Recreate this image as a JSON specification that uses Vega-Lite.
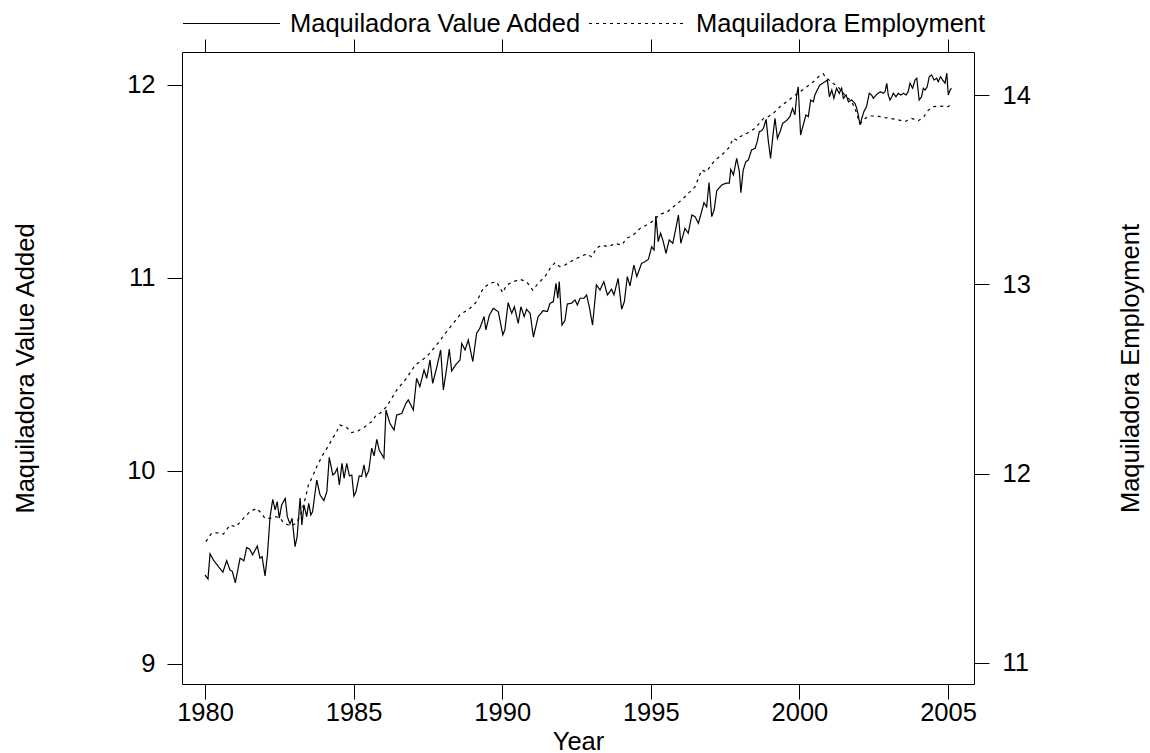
{
  "$schema": "https://vega.github.io/schema/vega-lite/v6.json",
  "width": 792,
  "height": 632,
  "autosize": {"type": "none"},
  "padding": {"left": 182, "top": 52, "right": 176, "bottom": 69},
  "background": "white",
  "config": {
    "view": {"stroke": "black", "strokeWidth": 1},
    "font": "Liberation Sans",
    "axis": {
      "grid": false, "domain": false, "tickColor": "black", "tickWidth": 1,
      "labelFont": "Liberation Sans", "labelFontSize": 25.5, "labelColor": "black",
      "titleFont": "Liberation Sans", "titleFontSize": 25.5, "titleFontWeight": "normal", "titleColor": "black"
    }
  },
  "datasets": {
    "va": [
      {"year":1980.0,"value":9.461,"series":"Maquiladora Value Added"},
      {"year":1980.1,"value":9.44,"series":"Maquiladora Value Added"},
      {"year":1980.17,"value":9.571,"series":"Maquiladora Value Added"},
      {"year":1980.28,"value":9.539,"series":"Maquiladora Value Added"},
      {"year":1980.6,"value":9.475,"series":"Maquiladora Value Added"},
      {"year":1980.73,"value":9.535,"series":"Maquiladora Value Added"},
      {"year":1980.84,"value":9.487,"series":"Maquiladora Value Added"},
      {"year":1980.92,"value":9.48,"series":"Maquiladora Value Added"},
      {"year":1981.02,"value":9.42,"series":"Maquiladora Value Added"},
      {"year":1981.18,"value":9.548,"series":"Maquiladora Value Added"},
      {"year":1981.31,"value":9.535,"series":"Maquiladora Value Added"},
      {"year":1981.4,"value":9.603,"series":"Maquiladora Value Added"},
      {"year":1981.51,"value":9.594,"series":"Maquiladora Value Added"},
      {"year":1981.6,"value":9.565,"series":"Maquiladora Value Added"},
      {"year":1981.76,"value":9.611,"series":"Maquiladora Value Added"},
      {"year":1981.85,"value":9.548,"series":"Maquiladora Value Added"},
      {"year":1981.92,"value":9.556,"series":"Maquiladora Value Added"},
      {"year":1982.02,"value":9.456,"series":"Maquiladora Value Added"},
      {"year":1982.1,"value":9.565,"series":"Maquiladora Value Added"},
      {"year":1982.19,"value":9.763,"series":"Maquiladora Value Added"},
      {"year":1982.28,"value":9.853,"series":"Maquiladora Value Added"},
      {"year":1982.36,"value":9.798,"series":"Maquiladora Value Added"},
      {"year":1982.43,"value":9.841,"series":"Maquiladora Value Added"},
      {"year":1982.5,"value":9.755,"series":"Maquiladora Value Added"},
      {"year":1982.58,"value":9.824,"series":"Maquiladora Value Added"},
      {"year":1982.7,"value":9.858,"series":"Maquiladora Value Added"},
      {"year":1982.77,"value":9.763,"series":"Maquiladora Value Added"},
      {"year":1982.86,"value":9.725,"series":"Maquiladora Value Added"},
      {"year":1982.93,"value":9.755,"series":"Maquiladora Value Added"},
      {"year":1983.03,"value":9.608,"series":"Maquiladora Value Added"},
      {"year":1983.1,"value":9.66,"series":"Maquiladora Value Added"},
      {"year":1983.2,"value":9.859,"series":"Maquiladora Value Added"},
      {"year":1983.26,"value":9.72,"series":"Maquiladora Value Added"},
      {"year":1983.33,"value":9.824,"series":"Maquiladora Value Added"},
      {"year":1983.42,"value":9.763,"series":"Maquiladora Value Added"},
      {"year":1983.49,"value":9.832,"series":"Maquiladora Value Added"},
      {"year":1983.56,"value":9.772,"series":"Maquiladora Value Added"},
      {"year":1983.62,"value":9.789,"series":"Maquiladora Value Added"},
      {"year":1983.76,"value":9.953,"series":"Maquiladora Value Added"},
      {"year":1983.87,"value":9.876,"series":"Maquiladora Value Added"},
      {"year":1984.0,"value":9.846,"series":"Maquiladora Value Added"},
      {"year":1984.1,"value":9.893,"series":"Maquiladora Value Added"},
      {"year":1984.18,"value":10.071,"series":"Maquiladora Value Added"},
      {"year":1984.3,"value":9.979,"series":"Maquiladora Value Added"},
      {"year":1984.37,"value":9.988,"series":"Maquiladora Value Added"},
      {"year":1984.45,"value":10.014,"series":"Maquiladora Value Added"},
      {"year":1984.52,"value":9.927,"series":"Maquiladora Value Added"},
      {"year":1984.61,"value":10.039,"series":"Maquiladora Value Added"},
      {"year":1984.68,"value":9.962,"series":"Maquiladora Value Added"},
      {"year":1984.77,"value":10.039,"series":"Maquiladora Value Added"},
      {"year":1984.86,"value":9.974,"series":"Maquiladora Value Added"},
      {"year":1984.94,"value":9.979,"series":"Maquiladora Value Added"},
      {"year":1985.01,"value":9.87,"series":"Maquiladora Value Added"},
      {"year":1985.08,"value":9.893,"series":"Maquiladora Value Added"},
      {"year":1985.19,"value":9.974,"series":"Maquiladora Value Added"},
      {"year":1985.27,"value":9.971,"series":"Maquiladora Value Added"},
      {"year":1985.35,"value":10.031,"series":"Maquiladora Value Added"},
      {"year":1985.42,"value":9.971,"series":"Maquiladora Value Added"},
      {"year":1985.51,"value":10.002,"series":"Maquiladora Value Added"},
      {"year":1985.61,"value":10.118,"series":"Maquiladora Value Added"},
      {"year":1985.69,"value":10.078,"series":"Maquiladora Value Added"},
      {"year":1985.78,"value":10.164,"series":"Maquiladora Value Added"},
      {"year":1985.86,"value":10.109,"series":"Maquiladora Value Added"},
      {"year":1986.02,"value":10.066,"series":"Maquiladora Value Added"},
      {"year":1986.09,"value":10.316,"series":"Maquiladora Value Added"},
      {"year":1986.22,"value":10.247,"series":"Maquiladora Value Added"},
      {"year":1986.36,"value":10.212,"series":"Maquiladora Value Added"},
      {"year":1986.45,"value":10.29,"series":"Maquiladora Value Added"},
      {"year":1986.62,"value":10.298,"series":"Maquiladora Value Added"},
      {"year":1986.76,"value":10.35,"series":"Maquiladora Value Added"},
      {"year":1986.84,"value":10.368,"series":"Maquiladora Value Added"},
      {"year":1987.01,"value":10.316,"series":"Maquiladora Value Added"},
      {"year":1987.12,"value":10.48,"series":"Maquiladora Value Added"},
      {"year":1987.23,"value":10.437,"series":"Maquiladora Value Added"},
      {"year":1987.37,"value":10.523,"series":"Maquiladora Value Added"},
      {"year":1987.46,"value":10.48,"series":"Maquiladora Value Added"},
      {"year":1987.57,"value":10.575,"series":"Maquiladora Value Added"},
      {"year":1987.66,"value":10.454,"series":"Maquiladora Value Added"},
      {"year":1987.79,"value":10.532,"series":"Maquiladora Value Added"},
      {"year":1987.93,"value":10.627,"series":"Maquiladora Value Added"},
      {"year":1988.02,"value":10.42,"series":"Maquiladora Value Added"},
      {"year":1988.11,"value":10.51,"series":"Maquiladora Value Added"},
      {"year":1988.22,"value":10.631,"series":"Maquiladora Value Added"},
      {"year":1988.3,"value":10.518,"series":"Maquiladora Value Added"},
      {"year":1988.45,"value":10.553,"series":"Maquiladora Value Added"},
      {"year":1988.58,"value":10.575,"series":"Maquiladora Value Added"},
      {"year":1988.64,"value":10.661,"series":"Maquiladora Value Added"},
      {"year":1988.75,"value":10.627,"series":"Maquiladora Value Added"},
      {"year":1988.86,"value":10.679,"series":"Maquiladora Value Added"},
      {"year":1989.01,"value":10.567,"series":"Maquiladora Value Added"},
      {"year":1989.14,"value":10.714,"series":"Maquiladora Value Added"},
      {"year":1989.25,"value":10.74,"series":"Maquiladora Value Added"},
      {"year":1989.39,"value":10.8,"series":"Maquiladora Value Added"},
      {"year":1989.45,"value":10.731,"series":"Maquiladora Value Added"},
      {"year":1989.57,"value":10.808,"series":"Maquiladora Value Added"},
      {"year":1989.7,"value":10.843,"series":"Maquiladora Value Added"},
      {"year":1989.87,"value":10.825,"series":"Maquiladora Value Added"},
      {"year":1990.02,"value":10.705,"series":"Maquiladora Value Added"},
      {"year":1990.09,"value":10.731,"series":"Maquiladora Value Added"},
      {"year":1990.2,"value":10.872,"series":"Maquiladora Value Added"},
      {"year":1990.32,"value":10.817,"series":"Maquiladora Value Added"},
      {"year":1990.41,"value":10.851,"series":"Maquiladora Value Added"},
      {"year":1990.54,"value":10.765,"series":"Maquiladora Value Added"},
      {"year":1990.63,"value":10.851,"series":"Maquiladora Value Added"},
      {"year":1990.74,"value":10.8,"series":"Maquiladora Value Added"},
      {"year":1990.82,"value":10.838,"series":"Maquiladora Value Added"},
      {"year":1990.94,"value":10.817,"series":"Maquiladora Value Added"},
      {"year":1991.05,"value":10.693,"series":"Maquiladora Value Added"},
      {"year":1991.21,"value":10.8,"series":"Maquiladora Value Added"},
      {"year":1991.38,"value":10.831,"series":"Maquiladora Value Added"},
      {"year":1991.52,"value":10.826,"series":"Maquiladora Value Added"},
      {"year":1991.61,"value":10.869,"series":"Maquiladora Value Added"},
      {"year":1991.72,"value":10.877,"series":"Maquiladora Value Added"},
      {"year":1991.81,"value":10.972,"series":"Maquiladora Value Added"},
      {"year":1991.87,"value":10.895,"series":"Maquiladora Value Added"},
      {"year":1991.92,"value":10.981,"series":"Maquiladora Value Added"},
      {"year":1992.01,"value":10.756,"series":"Maquiladora Value Added"},
      {"year":1992.11,"value":10.779,"series":"Maquiladora Value Added"},
      {"year":1992.19,"value":10.865,"series":"Maquiladora Value Added"},
      {"year":1992.33,"value":10.869,"series":"Maquiladora Value Added"},
      {"year":1992.45,"value":10.886,"series":"Maquiladora Value Added"},
      {"year":1992.53,"value":10.86,"series":"Maquiladora Value Added"},
      {"year":1992.62,"value":10.895,"series":"Maquiladora Value Added"},
      {"year":1992.75,"value":10.895,"series":"Maquiladora Value Added"},
      {"year":1992.84,"value":10.912,"series":"Maquiladora Value Added"},
      {"year":1992.93,"value":10.851,"series":"Maquiladora Value Added"},
      {"year":1993.04,"value":10.756,"series":"Maquiladora Value Added"},
      {"year":1993.17,"value":10.964,"series":"Maquiladora Value Added"},
      {"year":1993.29,"value":10.938,"series":"Maquiladora Value Added"},
      {"year":1993.42,"value":10.981,"series":"Maquiladora Value Added"},
      {"year":1993.54,"value":10.912,"series":"Maquiladora Value Added"},
      {"year":1993.68,"value":10.942,"series":"Maquiladora Value Added"},
      {"year":1993.76,"value":10.912,"series":"Maquiladora Value Added"},
      {"year":1993.9,"value":10.998,"series":"Maquiladora Value Added"},
      {"year":1994.02,"value":10.838,"series":"Maquiladora Value Added"},
      {"year":1994.11,"value":10.877,"series":"Maquiladora Value Added"},
      {"year":1994.21,"value":11.007,"series":"Maquiladora Value Added"},
      {"year":1994.3,"value":10.959,"series":"Maquiladora Value Added"},
      {"year":1994.43,"value":11.067,"series":"Maquiladora Value Added"},
      {"year":1994.53,"value":11.007,"series":"Maquiladora Value Added"},
      {"year":1994.69,"value":11.076,"series":"Maquiladora Value Added"},
      {"year":1994.8,"value":11.084,"series":"Maquiladora Value Added"},
      {"year":1994.92,"value":11.097,"series":"Maquiladora Value Added"},
      {"year":1995.03,"value":11.162,"series":"Maquiladora Value Added"},
      {"year":1995.11,"value":11.145,"series":"Maquiladora Value Added"},
      {"year":1995.17,"value":11.321,"series":"Maquiladora Value Added"},
      {"year":1995.25,"value":11.188,"series":"Maquiladora Value Added"},
      {"year":1995.33,"value":11.232,"series":"Maquiladora Value Added"},
      {"year":1995.42,"value":11.188,"series":"Maquiladora Value Added"},
      {"year":1995.51,"value":11.128,"series":"Maquiladora Value Added"},
      {"year":1995.62,"value":11.197,"series":"Maquiladora Value Added"},
      {"year":1995.74,"value":11.18,"series":"Maquiladora Value Added"},
      {"year":1995.81,"value":11.232,"series":"Maquiladora Value Added"},
      {"year":1995.93,"value":11.326,"series":"Maquiladora Value Added"},
      {"year":1996.01,"value":11.18,"series":"Maquiladora Value Added"},
      {"year":1996.15,"value":11.257,"series":"Maquiladora Value Added"},
      {"year":1996.26,"value":11.232,"series":"Maquiladora Value Added"},
      {"year":1996.38,"value":11.326,"series":"Maquiladora Value Added"},
      {"year":1996.49,"value":11.318,"series":"Maquiladora Value Added"},
      {"year":1996.6,"value":11.283,"series":"Maquiladora Value Added"},
      {"year":1996.71,"value":11.344,"series":"Maquiladora Value Added"},
      {"year":1996.79,"value":11.39,"series":"Maquiladora Value Added"},
      {"year":1996.88,"value":11.369,"series":"Maquiladora Value Added"},
      {"year":1996.96,"value":11.494,"series":"Maquiladora Value Added"},
      {"year":1997.05,"value":11.318,"series":"Maquiladora Value Added"},
      {"year":1997.13,"value":11.352,"series":"Maquiladora Value Added"},
      {"year":1997.22,"value":11.452,"series":"Maquiladora Value Added"},
      {"year":1997.39,"value":11.482,"series":"Maquiladora Value Added"},
      {"year":1997.53,"value":11.491,"series":"Maquiladora Value Added"},
      {"year":1997.64,"value":11.491,"series":"Maquiladora Value Added"},
      {"year":1997.69,"value":11.563,"series":"Maquiladora Value Added"},
      {"year":1997.78,"value":11.534,"series":"Maquiladora Value Added"},
      {"year":1997.89,"value":11.62,"series":"Maquiladora Value Added"},
      {"year":1997.98,"value":11.551,"series":"Maquiladora Value Added"},
      {"year":1998.03,"value":11.442,"series":"Maquiladora Value Added"},
      {"year":1998.11,"value":11.56,"series":"Maquiladora Value Added"},
      {"year":1998.2,"value":11.603,"series":"Maquiladora Value Added"},
      {"year":1998.28,"value":11.611,"series":"Maquiladora Value Added"},
      {"year":1998.39,"value":11.663,"series":"Maquiladora Value Added"},
      {"year":1998.51,"value":11.672,"series":"Maquiladora Value Added"},
      {"year":1998.58,"value":11.706,"series":"Maquiladora Value Added"},
      {"year":1998.65,"value":11.758,"series":"Maquiladora Value Added"},
      {"year":1998.73,"value":11.763,"series":"Maquiladora Value Added"},
      {"year":1998.79,"value":11.776,"series":"Maquiladora Value Added"},
      {"year":1998.88,"value":11.822,"series":"Maquiladora Value Added"},
      {"year":1998.95,"value":11.715,"series":"Maquiladora Value Added"},
      {"year":1999.03,"value":11.62,"series":"Maquiladora Value Added"},
      {"year":1999.12,"value":11.753,"series":"Maquiladora Value Added"},
      {"year":1999.18,"value":11.827,"series":"Maquiladora Value Added"},
      {"year":1999.26,"value":11.724,"series":"Maquiladora Value Added"},
      {"year":1999.35,"value":11.758,"series":"Maquiladora Value Added"},
      {"year":1999.44,"value":11.802,"series":"Maquiladora Value Added"},
      {"year":1999.52,"value":11.81,"series":"Maquiladora Value Added"},
      {"year":1999.59,"value":11.819,"series":"Maquiladora Value Added"},
      {"year":1999.68,"value":11.836,"series":"Maquiladora Value Added"},
      {"year":1999.77,"value":11.879,"series":"Maquiladora Value Added"},
      {"year":1999.85,"value":11.845,"series":"Maquiladora Value Added"},
      {"year":1999.91,"value":11.948,"series":"Maquiladora Value Added"},
      {"year":1999.96,"value":11.991,"series":"Maquiladora Value Added"},
      {"year":2000.04,"value":11.741,"series":"Maquiladora Value Added"},
      {"year":2000.13,"value":11.793,"series":"Maquiladora Value Added"},
      {"year":2000.22,"value":11.845,"series":"Maquiladora Value Added"},
      {"year":2000.3,"value":11.836,"series":"Maquiladora Value Added"},
      {"year":2000.38,"value":11.922,"series":"Maquiladora Value Added"},
      {"year":2000.47,"value":11.913,"series":"Maquiladora Value Added"},
      {"year":2000.52,"value":11.948,"series":"Maquiladora Value Added"},
      {"year":2000.6,"value":11.974,"series":"Maquiladora Value Added"},
      {"year":2000.69,"value":12.0,"series":"Maquiladora Value Added"},
      {"year":2000.78,"value":12.009,"series":"Maquiladora Value Added"},
      {"year":2000.86,"value":12.017,"series":"Maquiladora Value Added"},
      {"year":2000.94,"value":12.026,"series":"Maquiladora Value Added"},
      {"year":2001.01,"value":11.939,"series":"Maquiladora Value Added"},
      {"year":2001.09,"value":11.974,"series":"Maquiladora Value Added"},
      {"year":2001.16,"value":11.931,"series":"Maquiladora Value Added"},
      {"year":2001.25,"value":11.983,"series":"Maquiladora Value Added"},
      {"year":2001.34,"value":11.957,"series":"Maquiladora Value Added"},
      {"year":2001.42,"value":11.983,"series":"Maquiladora Value Added"},
      {"year":2001.48,"value":11.931,"series":"Maquiladora Value Added"},
      {"year":2001.57,"value":11.948,"series":"Maquiladora Value Added"},
      {"year":2001.65,"value":11.913,"series":"Maquiladora Value Added"},
      {"year":2001.76,"value":11.922,"series":"Maquiladora Value Added"},
      {"year":2001.87,"value":11.905,"series":"Maquiladora Value Added"},
      {"year":2001.93,"value":11.879,"series":"Maquiladora Value Added"},
      {"year":2001.98,"value":11.845,"series":"Maquiladora Value Added"},
      {"year":2002.04,"value":11.793,"series":"Maquiladora Value Added"},
      {"year":2002.1,"value":11.827,"series":"Maquiladora Value Added"},
      {"year":2002.17,"value":11.862,"series":"Maquiladora Value Added"},
      {"year":2002.26,"value":11.888,"series":"Maquiladora Value Added"},
      {"year":2002.35,"value":11.957,"series":"Maquiladora Value Added"},
      {"year":2002.43,"value":11.948,"series":"Maquiladora Value Added"},
      {"year":2002.49,"value":11.931,"series":"Maquiladora Value Added"},
      {"year":2002.58,"value":11.948,"series":"Maquiladora Value Added"},
      {"year":2002.65,"value":11.957,"series":"Maquiladora Value Added"},
      {"year":2002.73,"value":11.965,"series":"Maquiladora Value Added"},
      {"year":2002.82,"value":11.957,"series":"Maquiladora Value Added"},
      {"year":2002.88,"value":11.965,"series":"Maquiladora Value Added"},
      {"year":2002.94,"value":12.009,"series":"Maquiladora Value Added"},
      {"year":2002.99,"value":11.948,"series":"Maquiladora Value Added"},
      {"year":2003.05,"value":11.922,"series":"Maquiladora Value Added"},
      {"year":2003.11,"value":11.939,"series":"Maquiladora Value Added"},
      {"year":2003.16,"value":11.957,"series":"Maquiladora Value Added"},
      {"year":2003.25,"value":11.939,"series":"Maquiladora Value Added"},
      {"year":2003.33,"value":11.957,"series":"Maquiladora Value Added"},
      {"year":2003.41,"value":11.948,"series":"Maquiladora Value Added"},
      {"year":2003.5,"value":11.957,"series":"Maquiladora Value Added"},
      {"year":2003.59,"value":11.948,"series":"Maquiladora Value Added"},
      {"year":2003.66,"value":11.965,"series":"Maquiladora Value Added"},
      {"year":2003.72,"value":12.009,"series":"Maquiladora Value Added"},
      {"year":2003.81,"value":11.983,"series":"Maquiladora Value Added"},
      {"year":2003.89,"value":12.026,"series":"Maquiladora Value Added"},
      {"year":2003.95,"value":12.035,"series":"Maquiladora Value Added"},
      {"year":2004.03,"value":11.922,"series":"Maquiladora Value Added"},
      {"year":2004.11,"value":11.939,"series":"Maquiladora Value Added"},
      {"year":2004.17,"value":11.983,"series":"Maquiladora Value Added"},
      {"year":2004.23,"value":11.974,"series":"Maquiladora Value Added"},
      {"year":2004.3,"value":11.991,"series":"Maquiladora Value Added"},
      {"year":2004.37,"value":12.043,"series":"Maquiladora Value Added"},
      {"year":2004.45,"value":12.052,"series":"Maquiladora Value Added"},
      {"year":2004.53,"value":12.026,"series":"Maquiladora Value Added"},
      {"year":2004.62,"value":12.035,"series":"Maquiladora Value Added"},
      {"year":2004.67,"value":12.017,"series":"Maquiladora Value Added"},
      {"year":2004.75,"value":12.043,"series":"Maquiladora Value Added"},
      {"year":2004.82,"value":12.026,"series":"Maquiladora Value Added"},
      {"year":2004.9,"value":12.009,"series":"Maquiladora Value Added"},
      {"year":2004.96,"value":12.061,"series":"Maquiladora Value Added"},
      {"year":2005.01,"value":11.948,"series":"Maquiladora Value Added"},
      {"year":2005.07,"value":11.974,"series":"Maquiladora Value Added"},
      {"year":2005.12,"value":11.983,"series":"Maquiladora Value Added"}
    ],
    "emp": [
      {"year":1980.03,"value":11.641,"series":"Maquiladora Employment"},
      {"year":1980.22,"value":11.685,"series":"Maquiladora Employment"},
      {"year":1980.39,"value":11.688,"series":"Maquiladora Employment"},
      {"year":1980.62,"value":11.681,"series":"Maquiladora Employment"},
      {"year":1980.84,"value":11.729,"series":"Maquiladora Employment"},
      {"year":1981.04,"value":11.72,"series":"Maquiladora Employment"},
      {"year":1981.29,"value":11.764,"series":"Maquiladora Employment"},
      {"year":1981.51,"value":11.799,"series":"Maquiladora Employment"},
      {"year":1981.74,"value":11.817,"series":"Maquiladora Employment"},
      {"year":1981.85,"value":11.799,"series":"Maquiladora Employment"},
      {"year":1982.02,"value":11.764,"series":"Maquiladora Employment"},
      {"year":1982.19,"value":11.764,"series":"Maquiladora Employment"},
      {"year":1982.36,"value":11.773,"series":"Maquiladora Employment"},
      {"year":1982.52,"value":11.768,"series":"Maquiladora Employment"},
      {"year":1982.64,"value":11.741,"series":"Maquiladora Employment"},
      {"year":1982.86,"value":11.724,"series":"Maquiladora Employment"},
      {"year":1983.03,"value":11.734,"series":"Maquiladora Employment"},
      {"year":1983.2,"value":11.773,"series":"Maquiladora Employment"},
      {"year":1983.36,"value":11.861,"series":"Maquiladora Employment"},
      {"year":1983.48,"value":11.94,"series":"Maquiladora Employment"},
      {"year":1983.64,"value":11.993,"series":"Maquiladora Employment"},
      {"year":1983.76,"value":12.037,"series":"Maquiladora Employment"},
      {"year":1983.93,"value":12.09,"series":"Maquiladora Employment"},
      {"year":1984.1,"value":12.134,"series":"Maquiladora Employment"},
      {"year":1984.26,"value":12.178,"series":"Maquiladora Employment"},
      {"year":1984.43,"value":12.222,"series":"Maquiladora Employment"},
      {"year":1984.54,"value":12.257,"series":"Maquiladora Employment"},
      {"year":1984.74,"value":12.248,"series":"Maquiladora Employment"},
      {"year":1984.94,"value":12.217,"series":"Maquiladora Employment"},
      {"year":1985.16,"value":12.227,"series":"Maquiladora Employment"},
      {"year":1985.38,"value":12.248,"series":"Maquiladora Employment"},
      {"year":1985.61,"value":12.275,"series":"Maquiladora Employment"},
      {"year":1985.78,"value":12.314,"series":"Maquiladora Employment"},
      {"year":1985.89,"value":12.319,"series":"Maquiladora Employment"},
      {"year":1986.11,"value":12.354,"series":"Maquiladora Employment"},
      {"year":1986.45,"value":12.442,"series":"Maquiladora Employment"},
      {"year":1986.78,"value":12.504,"series":"Maquiladora Employment"},
      {"year":1987.07,"value":12.574,"series":"Maquiladora Employment"},
      {"year":1987.46,"value":12.618,"series":"Maquiladora Employment"},
      {"year":1987.79,"value":12.68,"series":"Maquiladora Employment"},
      {"year":1988.13,"value":12.75,"series":"Maquiladora Employment"},
      {"year":1988.58,"value":12.84,"series":"Maquiladora Employment"},
      {"year":1988.92,"value":12.874,"series":"Maquiladora Employment"},
      {"year":1989.14,"value":12.909,"series":"Maquiladora Employment"},
      {"year":1989.36,"value":12.979,"series":"Maquiladora Employment"},
      {"year":1989.58,"value":13.006,"series":"Maquiladora Employment"},
      {"year":1989.81,"value":13.014,"series":"Maquiladora Employment"},
      {"year":1990.02,"value":12.956,"series":"Maquiladora Employment"},
      {"year":1990.15,"value":12.997,"series":"Maquiladora Employment"},
      {"year":1990.37,"value":13.014,"series":"Maquiladora Employment"},
      {"year":1990.6,"value":13.027,"series":"Maquiladora Employment"},
      {"year":1990.82,"value":13.014,"series":"Maquiladora Employment"},
      {"year":1991.03,"value":12.97,"series":"Maquiladora Employment"},
      {"year":1991.21,"value":13.006,"series":"Maquiladora Employment"},
      {"year":1991.44,"value":13.041,"series":"Maquiladora Employment"},
      {"year":1991.61,"value":13.085,"series":"Maquiladora Employment"},
      {"year":1991.78,"value":13.115,"series":"Maquiladora Employment"},
      {"year":1991.94,"value":13.094,"series":"Maquiladora Employment"},
      {"year":1992.11,"value":13.102,"series":"Maquiladora Employment"},
      {"year":1992.39,"value":13.129,"series":"Maquiladora Employment"},
      {"year":1992.62,"value":13.146,"series":"Maquiladora Employment"},
      {"year":1992.84,"value":13.161,"series":"Maquiladora Employment"},
      {"year":1993.01,"value":13.146,"series":"Maquiladora Employment"},
      {"year":1993.17,"value":13.191,"series":"Maquiladora Employment"},
      {"year":1993.34,"value":13.208,"series":"Maquiladora Employment"},
      {"year":1993.57,"value":13.199,"series":"Maquiladora Employment"},
      {"year":1993.8,"value":13.217,"series":"Maquiladora Employment"},
      {"year":1994.02,"value":13.208,"series":"Maquiladora Employment"},
      {"year":1994.19,"value":13.244,"series":"Maquiladora Employment"},
      {"year":1994.41,"value":13.261,"series":"Maquiladora Employment"},
      {"year":1994.64,"value":13.296,"series":"Maquiladora Employment"},
      {"year":1994.86,"value":13.314,"series":"Maquiladora Employment"},
      {"year":1995.08,"value":13.336,"series":"Maquiladora Employment"},
      {"year":1995.31,"value":13.372,"series":"Maquiladora Employment"},
      {"year":1995.53,"value":13.38,"series":"Maquiladora Employment"},
      {"year":1995.76,"value":13.41,"series":"Maquiladora Employment"},
      {"year":1996.04,"value":13.446,"series":"Maquiladora Employment"},
      {"year":1996.26,"value":13.481,"series":"Maquiladora Employment"},
      {"year":1996.49,"value":13.516,"series":"Maquiladora Employment"},
      {"year":1996.71,"value":13.604,"series":"Maquiladora Employment"},
      {"year":1996.88,"value":13.595,"series":"Maquiladora Employment"},
      {"year":1996.99,"value":13.622,"series":"Maquiladora Employment"},
      {"year":1997.16,"value":13.657,"series":"Maquiladora Employment"},
      {"year":1997.39,"value":13.684,"series":"Maquiladora Employment"},
      {"year":1997.61,"value":13.719,"series":"Maquiladora Employment"},
      {"year":1997.78,"value":13.772,"series":"Maquiladora Employment"},
      {"year":1997.89,"value":13.763,"series":"Maquiladora Employment"},
      {"year":1998.0,"value":13.78,"series":"Maquiladora Employment"},
      {"year":1998.23,"value":13.798,"series":"Maquiladora Employment"},
      {"year":1998.51,"value":13.825,"series":"Maquiladora Employment"},
      {"year":1998.79,"value":13.877,"series":"Maquiladora Employment"},
      {"year":1998.95,"value":13.886,"series":"Maquiladora Employment"},
      {"year":1999.12,"value":13.904,"series":"Maquiladora Employment"},
      {"year":1999.35,"value":13.939,"series":"Maquiladora Employment"},
      {"year":1999.57,"value":13.965,"series":"Maquiladora Employment"},
      {"year":1999.79,"value":13.992,"series":"Maquiladora Employment"},
      {"year":2000.02,"value":14.018,"series":"Maquiladora Employment"},
      {"year":2000.25,"value":14.044,"series":"Maquiladora Employment"},
      {"year":2000.47,"value":14.071,"series":"Maquiladora Employment"},
      {"year":2000.64,"value":14.097,"series":"Maquiladora Employment"},
      {"year":2000.8,"value":14.113,"series":"Maquiladora Employment"},
      {"year":2000.92,"value":14.089,"series":"Maquiladora Employment"},
      {"year":2001.14,"value":14.062,"series":"Maquiladora Employment"},
      {"year":2001.3,"value":14.044,"series":"Maquiladora Employment"},
      {"year":2001.53,"value":14.0,"series":"Maquiladora Employment"},
      {"year":2001.76,"value":13.965,"series":"Maquiladora Employment"},
      {"year":2001.87,"value":13.93,"series":"Maquiladora Employment"},
      {"year":2001.98,"value":13.877,"series":"Maquiladora Employment"},
      {"year":2002.06,"value":13.851,"series":"Maquiladora Employment"},
      {"year":2002.21,"value":13.877,"series":"Maquiladora Employment"},
      {"year":2002.37,"value":13.89,"series":"Maquiladora Employment"},
      {"year":2002.6,"value":13.89,"series":"Maquiladora Employment"},
      {"year":2002.82,"value":13.883,"series":"Maquiladora Employment"},
      {"year":2003.05,"value":13.877,"series":"Maquiladora Employment"},
      {"year":2003.27,"value":13.872,"series":"Maquiladora Employment"},
      {"year":2003.55,"value":13.86,"series":"Maquiladora Employment"},
      {"year":2003.78,"value":13.877,"series":"Maquiladora Employment"},
      {"year":2004.0,"value":13.865,"series":"Maquiladora Employment"},
      {"year":2004.17,"value":13.883,"series":"Maquiladora Employment"},
      {"year":2004.34,"value":13.921,"series":"Maquiladora Employment"},
      {"year":2004.51,"value":13.939,"series":"Maquiladora Employment"},
      {"year":2004.73,"value":13.942,"series":"Maquiladora Employment"},
      {"year":2005.0,"value":13.939,"series":"Maquiladora Employment"},
      {"year":2005.12,"value":13.953,"series":"Maquiladora Employment"}
    ]
  },
  "layer": [
    {
      "data": {"name": "va"},
      "mark": {"type": "line", "color": "black", "strokeWidth": 1.2},
      "encoding": {
        "x": {"field": "year", "type": "quantitative",
          "scale": {"domain": [1979.226, 2005.875], "nice": false, "zero": false},
          "axis": {"orient": "bottom", "values": [1980, 1985, 1990, 1995, 2000, 2005], "format": "d",
            "tickSize": 15, "labelPadding": 1, "title": "Year",
            "titleX": 396, "titleY": 65, "titleBaseline": "alphabetic", "titleAlign": "center"}},
        "y": {"field": "value", "type": "quantitative",
          "scale": {"domain": [8.896, 12.171], "nice": false, "zero": false},
          "axis": {"orient": "left", "values": [9, 10, 11, 12], "format": "d",
            "tickSize": 15, "labelPadding": 12, "title": "Maquiladora Value Added",
            "titleAngle": 270, "titleX": -149, "titleY": 316, "titleBaseline": "alphabetic", "titleAlign": "center"}},
        "strokeDash": {"field": "series", "type": "nominal",
          "scale": {"domain": ["Maquiladora Value Added", "Maquiladora Employment"], "range": [[1, 0], [3, 4]]},
          "legend": {"orient": "none", "legendX": 0, "legendY": -78, "direction": "horizontal", "title": null,
            "symbolType": "stroke", "symbolSize": 9409, "symbolStrokeWidth": 1.2, "symbolStrokeColor": "black",
            "labelFont": "Liberation Sans", "labelFontSize": 25.5, "labelColor": "black", "labelOffset": 9,
            "labelBaseline": "middle", "columnPadding": 4, "padding": 0, "labelLimit": 400}}
      }
    },
    {
      "data": {"name": "emp"},
      "mark": {"type": "line", "color": "black", "strokeWidth": 1.2},
      "encoding": {
        "x": {"field": "year", "type": "quantitative",
          "scale": {"domain": [1979.226, 2005.875], "nice": false, "zero": false},
          "axis": {"orient": "top", "values": [1980, 1985, 1990, 1995, 2000, 2005], "labels": false,
            "tickSize": 13, "title": null}},
        "y": {"field": "value", "type": "quantitative",
          "scale": {"domain": [10.889, 14.228], "nice": false, "zero": false},
          "axis": {"orient": "right", "values": [11, 12, 13, 14], "format": "d",
            "tickSize": 15, "labelPadding": 13, "title": "Maquiladora Employment",
            "titleAngle": 270, "titleX": 164, "titleY": 316, "titleBaseline": "alphabetic", "titleAlign": "center"}},
        "strokeDash": {"field": "series", "type": "nominal"}
      }
    }
  ],
  "resolve": {"scale": {"x": "independent", "y": "independent"}}
}
